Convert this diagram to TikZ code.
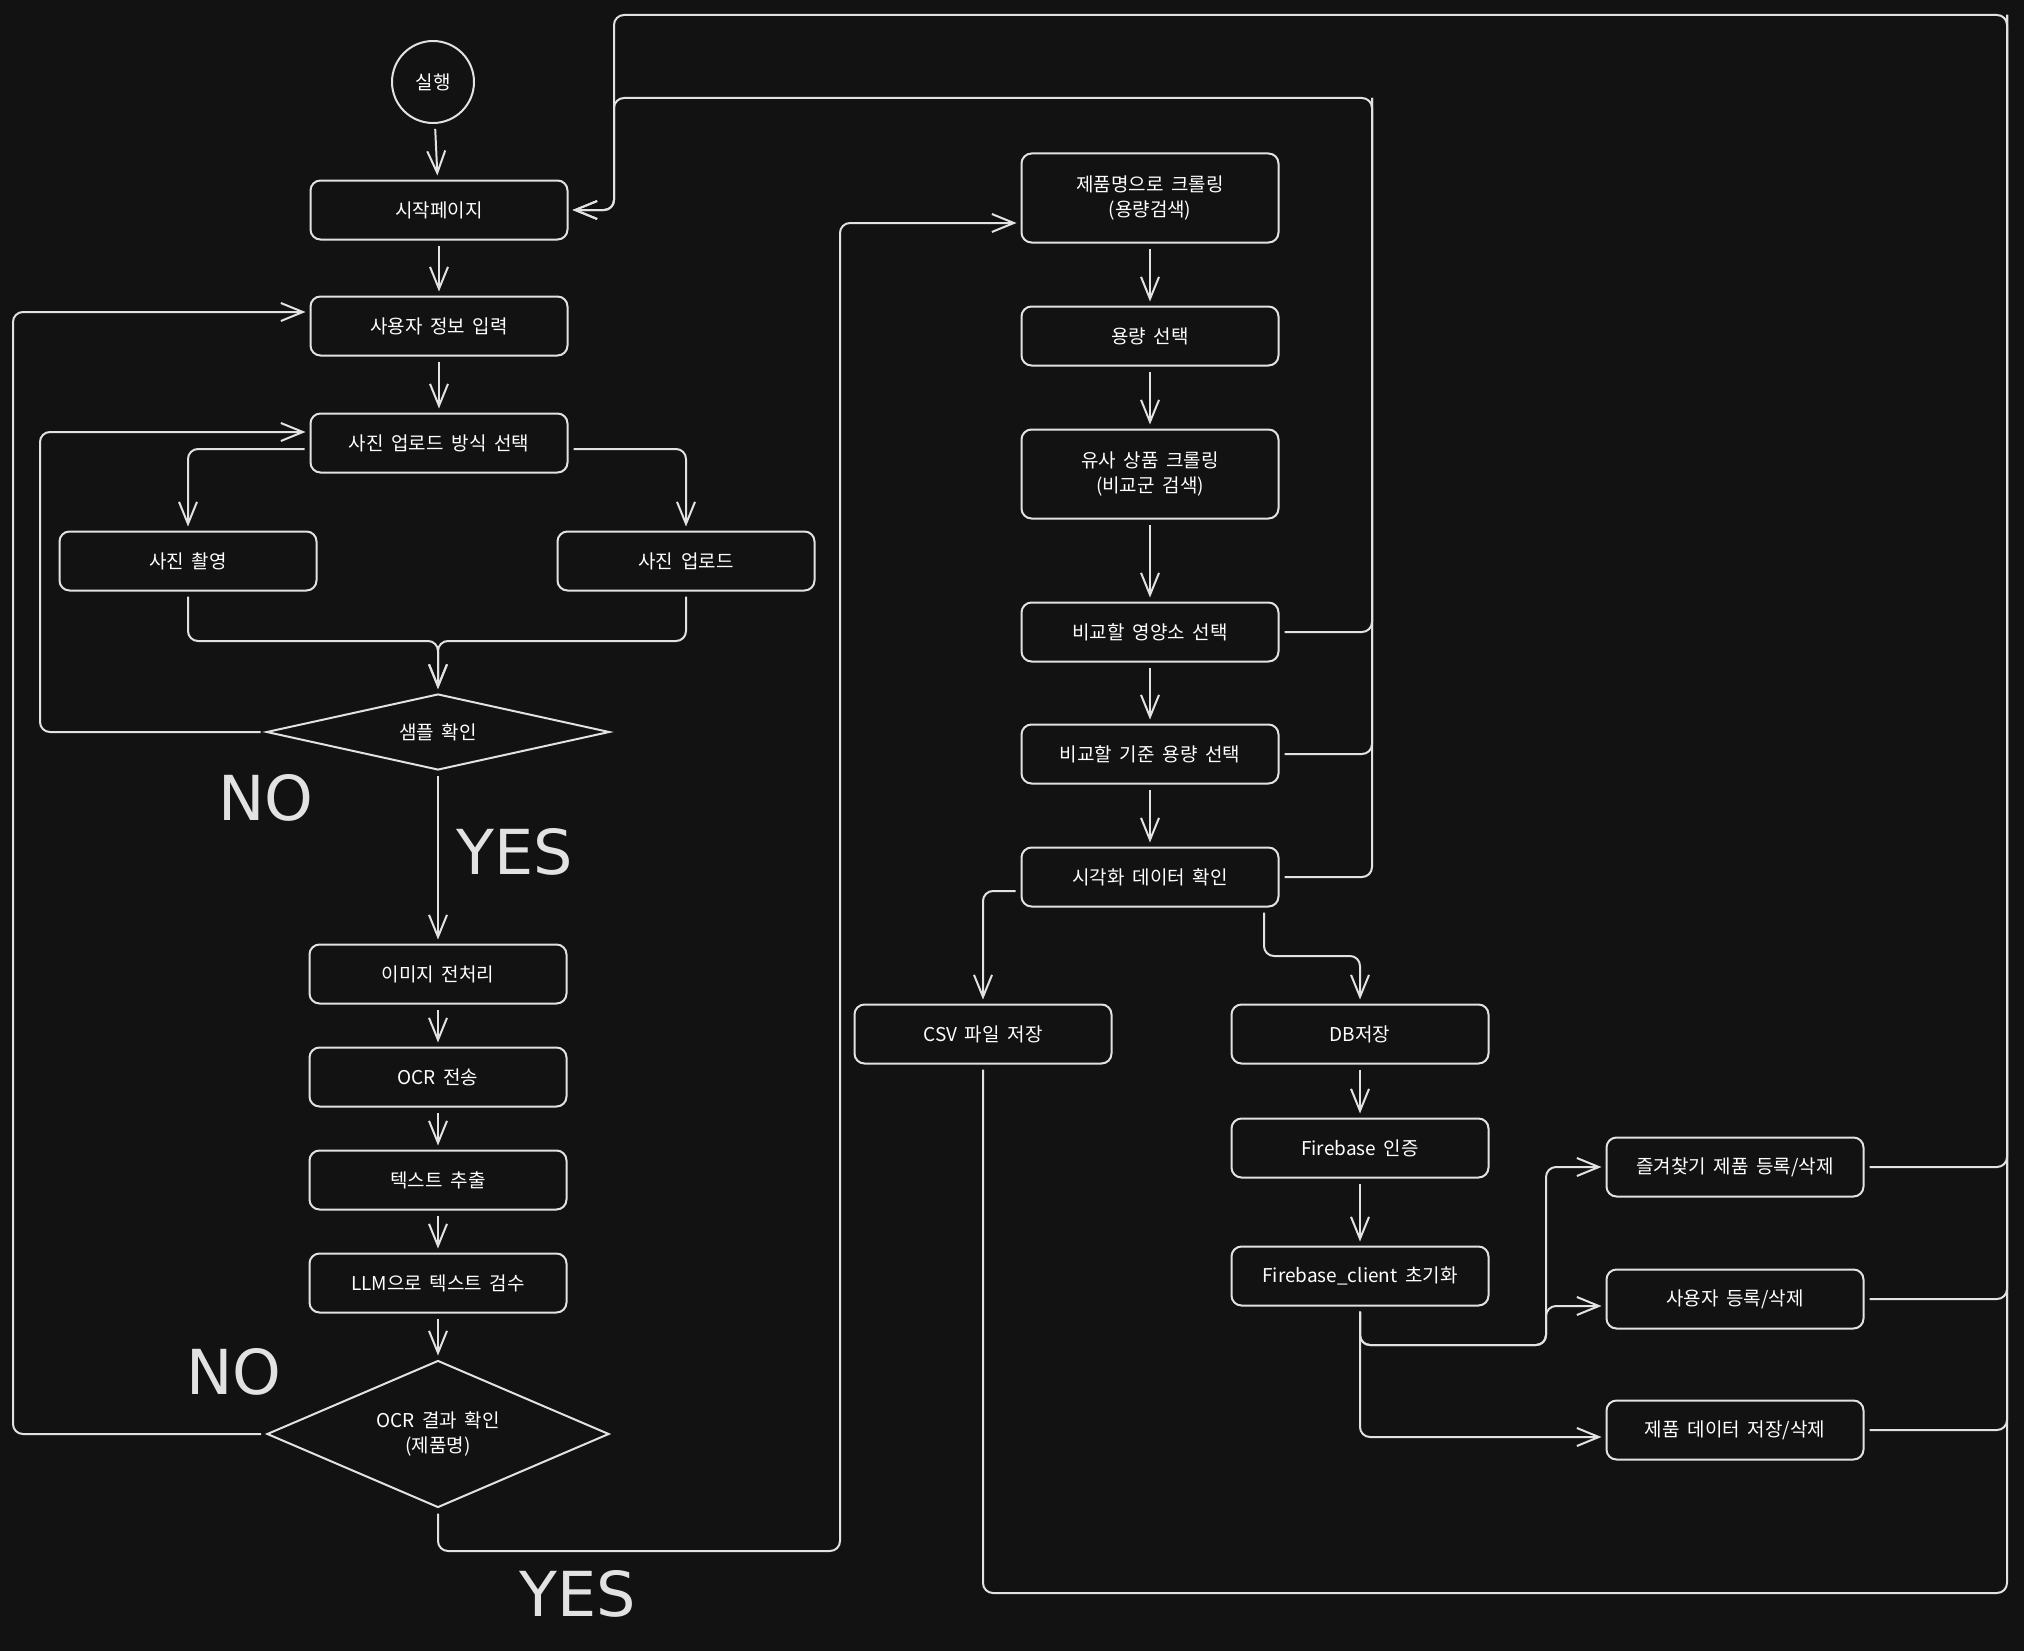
\documentclass[tikz,border=0pt]{standalone}
\usepackage{fontspec}
\setmainfont{Noto Sans CJK KR}[WordSpace=1.8]
\newfontfamily\tagfont{DejaVu Sans}
\usepackage{tikz}
\usetikzlibrary{shapes.geometric, arrows.meta}
\definecolor{bgcol}{HTML}{121212}
\definecolor{inkcol}{HTML}{E2E2E2}

\begin{document}
\begin{tikzpicture}[x=1pt, y=-1pt, font=\fontsize{19}{25}\selectfont,
    pbox/.style={draw=inkcol, text=white, line width=2pt, align=center, rounded corners=10pt, minimum width=257pt, minimum height=59pt},
    pbox2/.style={pbox, minimum height=89pt},
    pdec/.style={draw=inkcol, text=white, line width=2pt, diamond, align=center, inner sep=0pt},
    wire/.style={draw=inkcol, line width=2pt, rounded corners=10pt, shorten <=5pt},
    arw/.style={wire, -{Straight Barb[length=22pt, width=18pt]}, shorten >=4pt},
    bigtag/.style={font=\tagfont\fontsize{62}{62}\selectfont, text=inkcol}]
    \fill[bgcol] (0,0) rectangle (2024,1651);
    \useasboundingbox (0,0) rectangle (2024,1651);

    \node[draw=inkcol, text=white, line width=2pt, circle, minimum size=82pt]  (run)  at ( 433,   82)  {실행};
    \node[pbox]   (start)  at ( 439,  210)  {시작페이지};
    \node[pbox]   (info)   at ( 439,  326)  {사용자 정보 입력};
    \node[pbox]   (sel)    at ( 439,  443)  {사진 업로드 방식 선택};
    \node[pbox]   (shoot)  at ( 188,  561)  {사진 촬영};
    \node[pbox]   (upl)    at ( 686,  561)  {사진 업로드};
    \node[pdec, aspect=4.5, minimum width=343pt, minimum height=76pt]   (smp)  at ( 438,  732)  {샘플 확인};
    \node[pbox]   (pre)    at ( 438,  974)  {이미지 전처리};
    \node[pbox]   (ocr)    at ( 438, 1077)  {OCR 전송};
    \node[pbox]   (txt)    at ( 438, 1180)  {텍스트 추출};
    \node[pbox]   (llm)    at ( 438, 1283)  {LLM으로 텍스트 검수};
    \node[pdec, aspect=2.3, minimum width=342pt, minimum height=147pt]  (chk)  at ( 438, 1434)  {OCR 결과 확인 \\ (제품명)};

    \node[pbox2]  (crawl)  at (1150,  198)  {제품명으로 크롤링 \\ (용량검색)};
    \node[pbox]   (vol)    at (1150,  336)  {용량 선택};
    \node[pbox2]  (sim)    at (1150,  474)  {유사 상품 크롤링 \\ (비교군 검색)};
    \node[pbox]   (nut)    at (1150,  632)  {비교할 영양소 선택};
    \node[pbox]   (base)   at (1150,  754)  {비교할 기준 용량 선택};
    \node[pbox]   (vis)    at (1150,  877)  {시각화 데이터 확인};
    \node[pbox]   (csv)    at ( 983, 1034)  {CSV 파일 저장};
    \node[pbox]   (db)     at (1360, 1034)  {DB저장};
    \node[pbox]   (fbauth) at (1360, 1148)  {Firebase 인증};
    \node[pbox]   (fbinit) at (1360, 1276)  {Firebase\_client 초기화};
    \node[pbox]   (fav)    at (1735, 1167)  {즐겨찾기 제품 등록/삭제};
    \node[pbox]   (usr)    at (1735, 1299)  {사용자 등록/삭제};
    \node[pbox]   (prd)    at (1735, 1430)  {제품 데이터 저장/삭제};

    \node[bigtag] (no1)    at ( 266,  798)  {NO};
    \node[bigtag] (yes1)   at ( 515,  852)  {YES};
    \node[bigtag] (no2)    at ( 234, 1372)  {NO};
    \node[bigtag] (yes2)   at ( 578, 1594)  {YES};

    \coordinate (mrg)  at ( 438,  641);
    \coordinate (fbk)  at (1372,   98);
    \coordinate (rtop) at (2007,   15);
    \coordinate (brk)  at (1546, 1345);

    \draw[arw] (run) -- (start);
    \draw[arw] (start) -- (info);
    \draw[arw] (info) -- (sel);
    \draw[arw] ([yshift=-6pt]sel.west) -| (shoot.north);
    \draw[arw] ([yshift=-6pt]sel.east) -| (upl.north);
    \draw[arw] (shoot.south) |- (mrg) -- (smp.north);
    \draw[arw] (upl.south) |- (mrg) -- (smp.north);
    \draw[arw] (smp.west) -| (40,432) -- ([yshift=11pt]sel.west);

    \draw[arw] (smp.south) -- (pre.north);
    \draw[arw] (pre) -- (ocr);
    \draw[arw] (ocr) -- (txt);
    \draw[arw] (txt) -- (llm);
    \draw[arw] (llm) -- (chk.north);
    \draw[arw] (chk.west) -| (13,312) -- ([yshift=14pt]info.west);
    \draw[arw] (chk.south) |- (840,1551) |- ([yshift=-25pt]crawl.west);

    \draw[arw] (crawl) -- (vol);
    \draw[arw] (vol) -- (sim);
    \draw[arw] (sim) -- (nut);
    \draw[arw] (nut) -- (base);
    \draw[arw] (base) -- (vis);
    \draw[arw] (nut.east) -| (fbk) -| (614,180) |- (start.east);
    \draw[wire] (base.east) -| (fbk);
    \draw[wire] (vis.east) -| (fbk);

    \draw[arw] ([yshift=-14pt]vis.west) -| (csv.north);
    \draw[arw] ([xshift=114pt]vis.south) |- (1360,956) -- (db.north);
    \draw[arw] (db) -- (fbauth);
    \draw[arw] (fbauth) -- (fbinit);
    \draw[arw] (fbinit.south) |- (brk) |- (fav.west);
    \draw[arw] (fbinit.south) |- (brk) |- ([yshift=-7pt]usr.west);
    \draw[arw] (fbinit.south) |- ([yshift=-7pt]prd.west);

    \draw[arw] (csv.south) |- (2007,1593) -- (rtop) -| (614,180) |- (start.east);
    \draw[wire] (fav.east) -| (rtop);
    \draw[wire] (usr.east) -| (rtop);
    \draw[wire] (prd.east) -| (rtop);
\end{tikzpicture}
\end{document}
